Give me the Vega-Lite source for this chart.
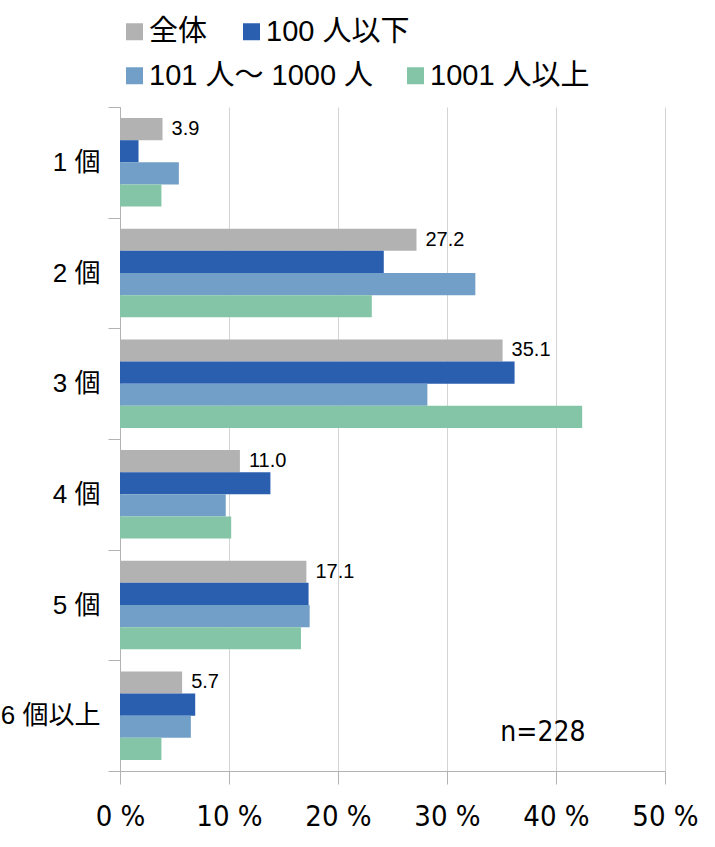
{
  "$schema": "https://vega.github.io/schema/vega-lite/v6.json",
  "width": 545,
  "height": 664,
  "autosize": {"type": "none"},
  "padding": {"left": 120, "top": 107, "right": 50, "bottom": 76},
  "background": "white",
  "config": {
    "view": {"stroke": null},
    "font": "Liberation Sans, Noto Sans CJK JP",
    "legend": {"padding": 0}
  },
  "datasets": {
    "bars": [
      {"cat": "1 個", "group": "全体", "value": 3.9},
      {"cat": "1 個", "group": "100 人以下", "value": 1.7},
      {"cat": "1 個", "group": "101 人～ 1000 人", "value": 5.4},
      {"cat": "1 個", "group": "1001 人以上", "value": 3.8},
      {"cat": "2 個", "group": "全体", "value": 27.2},
      {"cat": "2 個", "group": "100 人以下", "value": 24.2},
      {"cat": "2 個", "group": "101 人～ 1000 人", "value": 32.6},
      {"cat": "2 個", "group": "1001 人以上", "value": 23.1},
      {"cat": "3 個", "group": "全体", "value": 35.1},
      {"cat": "3 個", "group": "100 人以下", "value": 36.2},
      {"cat": "3 個", "group": "101 人～ 1000 人", "value": 28.2},
      {"cat": "3 個", "group": "1001 人以上", "value": 42.4},
      {"cat": "4 個", "group": "全体", "value": 11.0},
      {"cat": "4 個", "group": "100 人以下", "value": 13.8},
      {"cat": "4 個", "group": "101 人～ 1000 人", "value": 9.7},
      {"cat": "4 個", "group": "1001 人以上", "value": 10.2},
      {"cat": "5 個", "group": "全体", "value": 17.1},
      {"cat": "5 個", "group": "100 人以下", "value": 17.3},
      {"cat": "5 個", "group": "101 人～ 1000 人", "value": 17.4},
      {"cat": "5 個", "group": "1001 人以上", "value": 16.6},
      {"cat": "6 個以上", "group": "全体", "value": 5.7},
      {"cat": "6 個以上", "group": "100 人以下", "value": 6.9},
      {"cat": "6 個以上", "group": "101 人～ 1000 人", "value": 6.5},
      {"cat": "6 個以上", "group": "1001 人以上", "value": 3.8}
    ],
    "note": [{"label": "n=228", "cat": "6 個以上", "pos": 38.8}]
  },
  "data": {"name": "bars"},
  "encoding": {
    "y": {
      "field": "cat",
      "type": "nominal",
      "scale": {
        "domain": ["1 個", "2 個", "3 個", "4 個", "5 個", "6 個以上"],
        "paddingInner": 0,
        "paddingOuter": 0
      },
      "axis": {
        "title": null,
        "tickBand": "extent",
        "tickExtra": true,
        "tickSize": 12,
        "tickColor": "#b3b3b3",
        "domainColor": "#b3b3b3",
        "labelFontSize": 26,
        "labelColor": "#000000",
        "labelPadding": 8,
        "labelFont": "Liberation Sans, Noto Sans CJK JP"
      }
    },
    "x": {
      "field": "value",
      "type": "quantitative",
      "scale": {"domain": [0, 50], "nice": false},
      "axis": {
        "title": null,
        "values": [0, 10, 20, 30, 40, 50],
        "labelExpr": "datum.value + ' %'",
        "labelFont": "DejaVu Sans Condensed",
        "labelFontSize": 29,
        "labelColor": "#000000",
        "labelPadding": 18,
        "tickSize": 13,
        "tickColor": "#b3b3b3",
        "domainColor": "#b3b3b3",
        "gridColor": "#d4d4d4",
        "grid": true,
        "labelFlush": false
      }
    }
  },
  "layer": [
    {
      "transform": [{"filter": "datum.group === '全体' || datum.group === '100 人以下'"}],
      "mark": {"type": "bar"},
      "encoding": {
        "yOffset": {
          "field": "group",
          "type": "nominal",
          "scale": {"domain": ["全体", "100 人以下", "101 人～ 1000 人", "1001 人以上"], "paddingInner": 0, "paddingOuter": 0.5}
        },
        "color": {
          "field": "group",
          "type": "nominal",
          "scale": {"domain": ["全体", "100 人以下"], "range": ["#b2b2b2", "#2a5fb0"]},
          "legend": {
            "title": null,
            "orient": "none",
            "legendX": 0,
            "legendY": -90,
            "direction": "horizontal",
            "symbolType": "square",
            "symbolSize": 289,
            "symbolStrokeWidth": 0,
            "symbolOpacity": 1,
            "labelFontSize": 29,
            "labelColor": "#000000",
            "labelOffset": 0,
            "columnPadding": 29,
            "labelFont": "Liberation Sans, Noto Sans CJK JP",
            "labelLimit": 400
          }
        }
      }
    },
    {
      "transform": [{"filter": "datum.group === '101 人～ 1000 人' || datum.group === '1001 人以上'"}],
      "mark": {"type": "bar"},
      "encoding": {
        "yOffset": {
          "field": "group",
          "type": "nominal",
          "scale": {"domain": ["全体", "100 人以下", "101 人～ 1000 人", "1001 人以上"], "paddingInner": 0, "paddingOuter": 0.5}
        },
        "color": {
          "field": "group",
          "type": "nominal",
          "scale": {"domain": ["101 人～ 1000 人", "1001 人以上"], "range": ["#729fc7", "#83c5a6"]},
          "legend": {
            "title": null,
            "orient": "none",
            "legendX": 0,
            "legendY": -46,
            "direction": "horizontal",
            "symbolType": "square",
            "symbolSize": 289,
            "symbolStrokeWidth": 0,
            "symbolOpacity": 1,
            "labelFontSize": 29,
            "labelColor": "#000000",
            "labelOffset": 0,
            "columnPadding": 27,
            "labelFont": "Liberation Sans, Noto Sans CJK JP",
            "labelLimit": 400
          }
        }
      }
    },
    {
      "transform": [{"filter": "datum.group === '全体'"}],
      "mark": {"type": "text", "align": "left", "baseline": "middle", "dx": 9, "fontSize": 20, "font": "Liberation Sans", "color": "#000000"},
      "encoding": {
        "yOffset": {
          "field": "group",
          "type": "nominal",
          "scale": {"domain": ["全体", "100 人以下", "101 人～ 1000 人", "1001 人以上"], "paddingInner": 0, "paddingOuter": 0.5}
        },
        "text": {"field": "value", "type": "quantitative", "format": ".1f"}
      }
    },
    {
      "data": {"name": "note"},
      "mark": {"type": "text", "align": "center", "baseline": "middle", "dy": 17, "fontSize": 28, "font": "DejaVu Sans Condensed", "color": "#000000"},
      "encoding": {
        "x": {"field": "pos", "type": "quantitative"},
        "y": {"field": "cat", "type": "nominal"},
        "text": {"field": "label"}
      }
    }
  ],
  "resolve": {"scale": {"color": "independent"}}
}
